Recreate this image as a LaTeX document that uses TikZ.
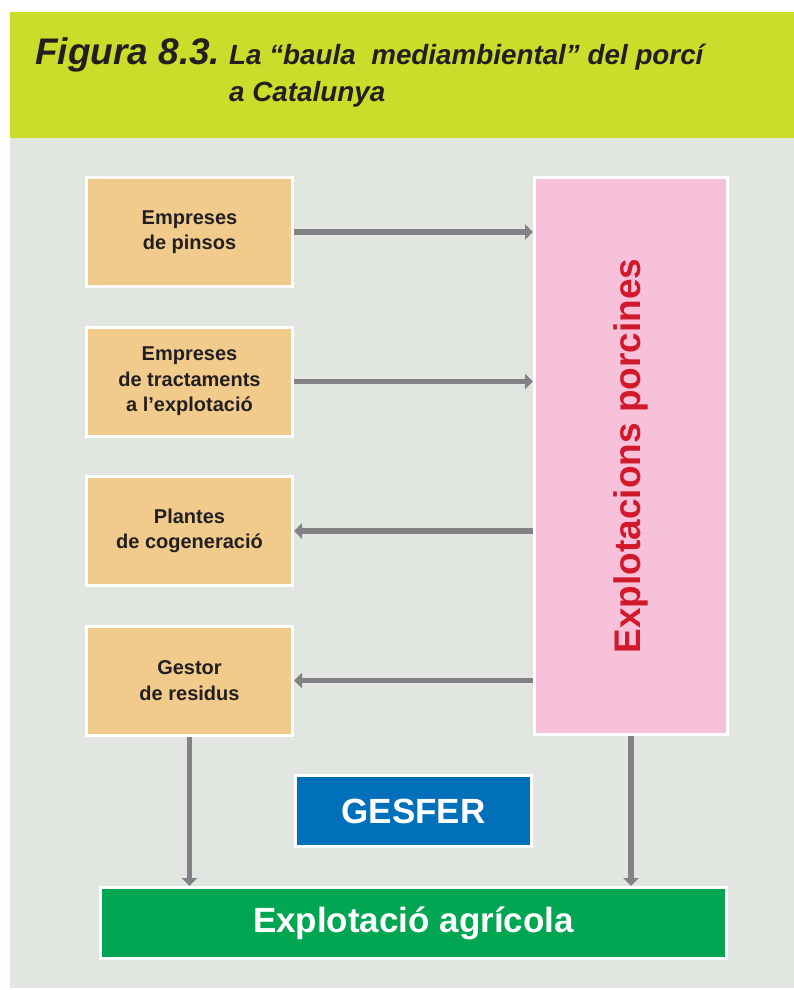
\documentclass[tikz,border=0pt]{standalone}
\usepackage{fontspec}
\setmainfont{Liberation Sans}
\usetikzlibrary{arrows.meta, positioning}

\definecolor{headergreen}{HTML}{CBDC2A}
\definecolor{panelgrey}{HTML}{E1E7E0}
\definecolor{actororange}{HTML}{F0CB8C}
\definecolor{farmpink}{HTML}{F6C1D9}
\definecolor{farmred}{HTML}{D2192B}
\definecolor{gesferblue}{HTML}{0070BA}
\definecolor{fieldgreen}{HTML}{00A651}
\definecolor{arrowgrey}{HTML}{808285}
\definecolor{textdark}{HTML}{231F20}

\begin{document}
\begin{tikzpicture}[
    x=1pt, y=-1pt,
    node distance=37.5pt,
    box/.style={
            rectangle,
            draw=white,
            line width=3pt,
            align=center
        },
    actor_block/.style={
            box,
            fill=actororange,
            text=textdark,
            font=\bfseries\fontsize{20}{25.5}\selectfont,
            minimum width=206pt,
            minimum height=109pt
        },
    farm_block/.style={
            box,
            fill=farmpink,
            text=farmred,
            font=\bfseries\fontsize{37}{44}\selectfont,
            minimum width=557pt,
            minimum height=193pt
        },
    white_block/.style={
            box,
            text=white,
            font=\bfseries\fontsize{35}{42}\selectfont,
            minimum height=71pt
        },
    title_text/.style={
            anchor=base west,
            inner sep=0pt,
            text=textdark,
            font=\bfseries\itshape\fontsize{#1}{#1}\selectfont
        },
    arrow/.style={
            draw=arrowgrey,
            line width=5.5pt,
            -{Triangle[length=8pt, width=15pt]}
        }
    ]
    \useasboundingbox (0,0) rectangle (794,990);

    % --- Background ---
    \fill[headergreen] (10,12) rectangle (794,138);
    \fill[panelgrey] (10,138) rectangle (794,988);

    % --- Title ---
    \node (fig_num) [title_text=37] at (35,64) {Figura 8.3.};
    \node (fig_title) [title_text=27.8] at (229,64) {La “baula\ \ mediambiental” del porcí};
    \node (fig_title2) [title_text=27.8] at (229,101) {a Catalunya};

    % --- Actors ---
    \node (feed) [actor_block] at (189.5,232) {Empreses\\de pinsos};
    \node (treatment) [actor_block, below=of feed] {Empreses\\de tractaments\\a l’explotació};
    \node (cogeneration) [actor_block, below=of treatment] {Plantes\\de cogeneració};
    \node (waste) [actor_block, below=of cogeneration] {Gestor\\de residus};

    % --- Farms (rotated: north is the left side, west the bottom) ---
    \node (pig_farms) [farm_block, rotate=90] at (631,456) {Explotacions porcines};
    \node (gesfer) [white_block, fill=gesferblue, minimum width=236pt] at (413.5,811) {GESFER};
    \node (agri_farm) [white_block, fill=fieldgreen, minimum width=626pt] at (413.5,923) {Explotació agrícola};

    % --- Arrows ---
    \draw[arrow] (feed.east) -- (feed.east -| pig_farms.north);
    \draw[arrow] (treatment.east) -- (treatment.east -| pig_farms.north);
    \draw[arrow] (cogeneration.east -| pig_farms.north) -- (cogeneration.east);
    \draw[arrow] (waste.east -| pig_farms.north) -- (waste.east);
    \draw[arrow] (waste.south) -- (waste.south |- agri_farm.north);
    \draw[arrow] (pig_farms.west) -- (pig_farms.west |- agri_farm.north);

\end{tikzpicture}
\end{document}
